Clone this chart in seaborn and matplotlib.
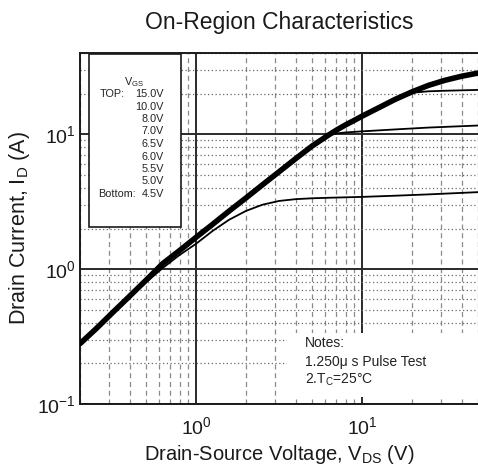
import matplotlib
matplotlib.use("Agg")
import matplotlib.pyplot as plt
import numpy as np
import pandas as pd
import seaborn as sns
from matplotlib.patches import Rectangle
from matplotlib.ticker import LogLocator, NullFormatter, FixedLocator

# ---- data (log-log axes) ----
vds_thick = [0.2, 0.251, 0.316, 0.398, 0.501, 0.631, 0.794, 1.0, 1.26, 1.58, 2.0, 2.51,
             3.16, 3.98, 5.01, 6.31, 7.08, 7.94, 8.91, 10.0, 12.6, 15.8, 20.0, 25.1,
             31.6, 39.8, 50.0]
id_thick = [0.28, 0.363, 0.479, 0.63, 0.83, 1.10, 1.37, 1.72, 2.15, 2.69, 3.37, 4.21,
            5.26, 6.58, 8.18, 9.89, 10.8, 11.7, 12.6, 13.6, 15.7, 18.1, 20.6, 23.0,
            25.1, 26.9, 28.4]

vds_a = [12.6, 15.8, 17.8, 20.0, 25.1, 31.6, 50.0]
id_a = [15.7, 18.1, 19.5, 20.3, 20.8, 21.0, 21.3]

vds_b = [3.98, 5.01, 6.31, 7.08, 7.94, 10.0, 15.8, 25.1, 50.0]
id_b = [6.58, 8.18, 9.8, 10.15, 10.3, 10.5, 10.85, 11.2, 11.6]

vds_c = [0.2, 0.316, 0.501, 0.631, 0.794, 1.0, 1.26, 1.58, 2.0, 2.51, 3.16, 3.98,
         5.01, 6.31, 10.0, 15.8, 25.1, 50.0]
id_c = [0.28, 0.479, 0.80, 1.02, 1.27, 1.54, 1.92, 2.32, 2.70, 3.00, 3.20, 3.30,
        3.35, 3.38, 3.43, 3.50, 3.58, 3.72]

vgs_values = ["15.0V", "10.0V", "8.0V", "7.0V", "6.5V", "6.0V", "5.5V", "5.0V", "4.5V"]
notes = ["Notes:", "1.250\u03bc s Pulse Test", "2.T$_{C}$=25\u00b0C"]

# ---- style ----
sns.set_theme(style="white")
plt.rcParams['font.family'] = ['Liberation Sans', 'DejaVu Sans']
plt.rcParams['mathtext.fontset'] = 'custom'
plt.rcParams['mathtext.rm'] = 'Liberation Sans'
plt.rcParams['mathtext.it'] = 'Liberation Sans:italic'
plt.rcParams['mathtext.default'] = 'regular'

W, H = 478, 470
fig = plt.figure(figsize=(W / 100, H / 100), dpi=100)
ax = fig.add_axes([80 / W, 66 / H, 398 / W, 351 / H])

def fx(px):
    return (px - 80) / 398

def fy(py):
    return 1 - (py - 53) / 351

ax.set_xscale("log")
ax.set_yscale("log")
ax.set_xlim(0.2, 50)
ax.set_ylim(0.1, 40)

series = [
    (vds_c, id_c, 1.3),
    (vds_b, id_b, 1.3),
    (vds_a, id_a, 1.3),
    (vds_thick, id_thick, 4.0),
]
for xs, ys, lw in series:
    df = pd.DataFrame({"VDS": xs, "ID": ys})
    sns.lineplot(data=df, x="VDS", y="ID", ax=ax, color="black", linewidth=lw,
                 estimator=None, sort=False, zorder=3)
for ln in ax.lines:
    ln.set_solid_joinstyle("round")
    ln.set_solid_capstyle("round")

# ticks & grid
ax.xaxis.set_major_locator(FixedLocator([1, 10]))
ax.yaxis.set_major_locator(FixedLocator([0.1, 1, 10]))
ax.xaxis.set_minor_locator(LogLocator(base=10, subs=np.arange(2, 10)))
ax.yaxis.set_minor_locator(LogLocator(base=10, subs=np.arange(2, 10)))
ax.xaxis.set_minor_formatter(NullFormatter())
ax.yaxis.set_minor_formatter(NullFormatter())
ax.set_xticklabels(["10$^{0}$", "10$^{1}$"])
ax.set_yticklabels(["10$^{-1}$", "10$^{0}$", "10$^{1}$"])
ax.tick_params(which="both", length=0)
ax.tick_params(axis="x", which="major", pad=9, labelsize=14, colors="#1a1a1a")
ax.tick_params(axis="y", which="major", pad=3, labelsize=14, colors="#1a1a1a")

ax.set_axisbelow(True)
ax.grid(which="major", color="#2a2a2a", linewidth=1.4, linestyle="-")
ax.xaxis.grid(which="minor", color="#8a8a8a", linewidth=0.9, linestyle=(0, (4, 3)))
ax.yaxis.grid(which="minor", color="#6a6a6a", linewidth=0.9, linestyle=(0, (1, 2)))

for side in ["left", "top", "bottom"]:
    ax.spines[side].set_color("#1a1a1a")
    ax.spines[side].set_linewidth(1.4)
ax.spines["right"].set_visible(False)

# legend box (VGS list)
ax.add_patch(Rectangle((fx(89), fy(227)), fx(181) - fx(89), fy(54) - fy(227),
                       transform=ax.transAxes, facecolor="white", edgecolor="#1a1a1a",
                       linewidth=1.2, zorder=2))
leg_fs = 7.8
ax.text(fx(134), fy(82), "V$_{GS}$", transform=ax.transAxes, ha="center", va="center",
        fontsize=leg_fs, color="#222222", zorder=4)
ys_leg = np.linspace(94, 194, len(vgs_values))
for i, (v, py) in enumerate(zip(vgs_values, ys_leg)):
    ax.text(fx(164), fy(py), v, transform=ax.transAxes, ha="right", va="center",
            fontsize=leg_fs, color="#222222", zorder=4)
    if i == 0:
        ax.text(fx(100), fy(py), "TOP:", transform=ax.transAxes, ha="left", va="center",
                fontsize=leg_fs, color="#222222", zorder=4)
    if i == len(vgs_values) - 1:
        ax.text(fx(98), fy(py), "Bottom:", transform=ax.transAxes, ha="left", va="center",
                fontsize=leg_fs, color="#222222", zorder=4)

# notes box
ax.add_patch(Rectangle((fx(287), fy(397)), fx(478) - fx(287), fy(333) - fy(397),
                       transform=ax.transAxes, facecolor="white", edgecolor="none",
                       zorder=2))
for t, py in zip(notes, [343, 362, 380]):
    ax.text(fx(305), fy(py), t, transform=ax.transAxes, ha="left", va="center",
            fontsize=10, color="#222222", zorder=4)

ax.set_title("On-Region Characteristics", fontsize=16.5, pad=17, color="#1a1a1a")
ax.set_xlabel("Drain-Source Voltage, V$_{DS}$ (V)", fontsize=14.5, labelpad=3, color="#1a1a1a")
ax.set_ylabel("Drain Current, I$_{D}$ (A)", fontsize=15.5, labelpad=4, color="#1a1a1a")

fig.savefig("out.png", dpi=100)
